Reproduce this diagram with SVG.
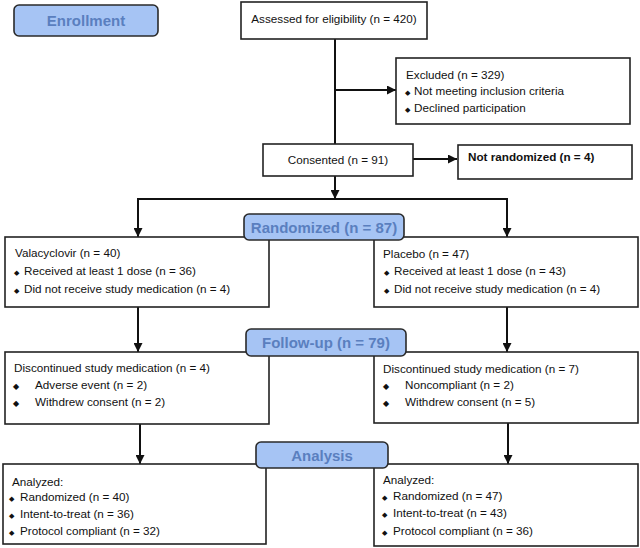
<svg xmlns="http://www.w3.org/2000/svg" width="640" height="548" viewBox="0 0 640 548">
<style>
.box{fill:#fff;stroke:#222;stroke-width:1.6}
.hdr{fill:#a6c4f4;stroke:#2a2a2a;stroke-width:1.6}
.ht{font-family:"Liberation Sans",Arial,sans-serif;font-size:15px;font-weight:bold;fill:#5a7fbf;text-anchor:middle}
.t{font-family:"Liberation Sans",Arial,sans-serif;font-size:11.7px;fill:#111}
.c{text-anchor:middle}
.b{font-size:7px}
.bb{font-size:8px}
.ln{fill:none;stroke:#111;stroke-width:2}
</style>
<defs>
<marker id="ah" markerUnits="userSpaceOnUse" markerWidth="9" markerHeight="9" refX="9" refY="4.5" orient="auto">
<path d="M0,0 L9,4.5 L0,9 z" fill="#111"/>
</marker>
</defs>
<g id="connectors">
<path class="ln" d="M335,39 V144"/>
<path class="ln" d="M335,90 H396" marker-end="url(#ah)"/>
<path class="ln" d="M413,159 H457" marker-end="url(#ah)"/>
<path class="ln" d="M335,176 V199" marker-end="url(#ah)"/>
<path class="ln" d="M138,237 V199 H507 V237" marker-end="url(#ah)"/>
<path class="ln" d="M138,199 V237" marker-end="url(#ah)"/>
<path class="ln" d="M138,307 V352" marker-end="url(#ah)"/>
<path class="ln" d="M507,307 V352" marker-end="url(#ah)"/>
<path class="ln" d="M140,424 V464" marker-end="url(#ah)"/>
<path class="ln" d="M508,423 V464" marker-end="url(#ah)"/>
</g>
<g id="assessed">
<rect class="box" x="241" y="2" width="186" height="37"/>
<text class="t c" x="334" y="23">Assessed for eligibility (n = 420)</text>
</g>
<g id="excluded">
<rect class="box" x="396" y="58" width="234" height="66"/>
<text class="t" x="406" y="79">Excluded (n = 329)</text>
<text class="t" y="95"><tspan class="b" x="405">◆</tspan><tspan x="414">Not meeting inclusion criteria</tspan></text>
<text class="t" y="112"><tspan class="b" x="405">◆</tspan><tspan x="414">Declined participation</tspan></text>
</g>
<g id="consented">
<rect class="box" x="263" y="144" width="150" height="32"/>
<text class="t c" x="338" y="164">Consented (n = 91)</text>
</g>
<g id="notrandomized">
<rect class="box" x="458" y="145" width="174" height="34"/>
<text class="t" x="468" y="161" font-weight="bold" font-size="11px">Not randomized (n = 4)</text>
</g>
<g id="valacyclovir">
<rect class="box" x="5" y="237" width="264" height="70"/>
<text class="t" x="15" y="257">Valacyclovir (n = 40)</text>
<text class="t" y="275"><tspan class="b" x="14">◆</tspan><tspan x="24">Received at least 1 dose (n = 36)</tspan></text>
<text class="t" y="293"><tspan class="b" x="14">◆</tspan><tspan x="24">Did not receive study medication (n = 4)</tspan></text>
</g>
<g id="placebo">
<rect class="box" x="374" y="237" width="264" height="70"/>
<text class="t" x="383" y="258">Placebo (n = 47)</text>
<text class="t" y="275"><tspan class="b" x="384">◆</tspan><tspan x="394">Received at least 1 dose (n = 43)</tspan></text>
<text class="t" y="293"><tspan class="b" x="384">◆</tspan><tspan x="394">Did not receive study medication (n = 4)</tspan></text>
</g>
<g id="disc-left">
<rect class="box" x="5" y="352" width="264" height="72"/>
<text class="t" x="14" y="372">Discontinued study medication (n = 4)</text>
<text class="t" y="389"><tspan class="bb" x="13">◆</tspan><tspan x="35">Adverse event (n = 2)</tspan></text>
<text class="t" y="406"><tspan class="bb" x="13">◆</tspan><tspan x="35">Withdrew consent (n = 2)</tspan></text>
</g>
<g id="disc-right">
<rect class="box" x="374" y="352" width="264" height="71"/>
<text class="t" x="383" y="373">Discontinued study medication (n = 7)</text>
<text class="t" y="389"><tspan class="bb" x="383">◆</tspan><tspan x="405">Noncompliant (n = 2)</tspan></text>
<text class="t" y="406"><tspan class="bb" x="383">◆</tspan><tspan x="405">Withdrew consent (n = 5)</tspan></text>
</g>
<g id="analyzed-left">
<rect class="box" x="3" y="464" width="263" height="80"/>
<text class="t" x="12" y="486">Analyzed:</text>
<text class="t" y="501"><tspan class="b" x="9">◆</tspan><tspan x="20">Randomized (n = 40)</tspan></text>
<text class="t" y="518"><tspan class="b" x="9">◆</tspan><tspan x="20">Intent-to-treat (n = 36)</tspan></text>
<text class="t" y="535"><tspan class="b" x="9">◆</tspan><tspan x="20">Protocol compliant (n = 32)</tspan></text>
</g>
<g id="analyzed-right">
<rect class="box" x="374" y="464" width="264" height="82"/>
<text class="t" x="383" y="484">Analyzed:</text>
<text class="t" y="500"><tspan class="b" x="382">◆</tspan><tspan x="393">Randomized (n = 47)</tspan></text>
<text class="t" y="517"><tspan class="b" x="382">◆</tspan><tspan x="393">Intent-to-treat (n = 43)</tspan></text>
<text class="t" y="535"><tspan class="b" x="382">◆</tspan><tspan x="393">Protocol compliant (n = 36)</tspan></text>
</g>
<g id="enrollment">
<rect class="hdr" x="14" y="5" width="144" height="31" rx="5"/>
<text class="ht" x="86" y="26">Enrollment</text>
</g>
<g id="randomized">
<rect class="hdr" x="244" y="214" width="160" height="26" rx="5"/>
<text class="ht" x="324" y="233">Randomized (n = 87)</text>
</g>
<g id="followup">
<rect class="hdr" x="246" y="329" width="160" height="27" rx="5"/>
<text class="ht" x="326" y="348">Follow-up (n = 79)</text>
</g>
<g id="analysis">
<rect class="hdr" x="256" y="442" width="132" height="26" rx="5"/>
<text class="ht" x="322" y="461">Analysis</text>
</g>
</svg>
